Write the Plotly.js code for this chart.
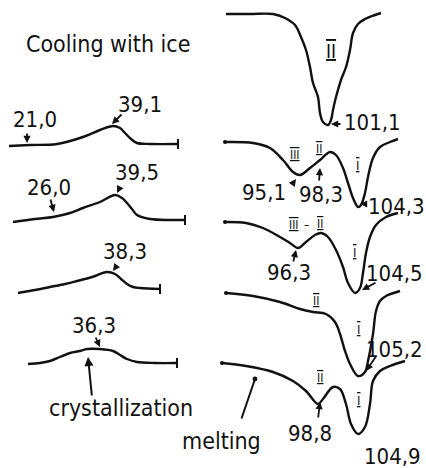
<!DOCTYPE html>
<html>
<head>
<meta charset="utf-8">
<script src="https://cdn.plot.ly/plotly-3.0.1.min.js"></script>
<style>html,body{margin:0;padding:0;background:#fff;}#chart{width:426px;height:468px;}</style>
</head>
<body>
<div id="chart"></div>
<script>
// Drawing units: the sheet is 426 x 468 units (x to the right, y downward)
// Left column: cooling (crystallization) traces
const cool1X = [9,30,57,83,100,113,120,125,131,137,150,178];
const cool1Y = [146,145,144,137,130,126,128,133,139,143,144,144];
const cool2X = [13,35,53,70,83,100,115,122,127,132,137,150,170,185];
const cool2Y = [222,219,217,213,208,202,195,198,203,209,215,219,220,220];
const cool3X = [18,35,50,65,77,92,107,115,121,127,133,140,160];
const cool3Y = [293,290,287,284,281,277,272,274,279,284,287,288,289];
const cool4X = [28,40,50,60,70,80,87,100,113,120,127,137,155,177];
const cool4Y = [364,363,361,357,353,351,349,349,351,355,359,362,363,363];
// Right column: melting traces
const melt1X = [226,250,273,285,295,301,306,310,313,318,320,323,328,331,333,336,341,346,350,353,358,365,372,381];
const melt1Y = [14,14,14,18,25,37,50,67,83,97,113,122,125,120,110,97,80,67,50,33,24,19,16,13];
const melt2X = [225,253,270,283,293,300,310,320,330,336,343,348,353,358,361,365,368,373,380,390,398];
const melt2Y = [142,143,148,160,172,175,168,160,152,155,168,183,198,207,205,193,177,158,147,142,139];
const melt3X = [225,246,263,280,290,298,306,315,321,328,336,343,348,355,360,363,366,370,376,386,398];
const melt3Y = [222,223,228,237,243,248,242,235,233,237,250,267,283,293,288,273,253,237,225,217,213];
const melt4X = [226,253,280,300,313,326,335,340,345,350,358,365,368,373,376,380,386,400];
const melt4Y = [293,296,302,309,312,314,322,334,351,364,376,372,361,334,311,301,296,291];
const melt5X = [222,246,273,293,306,318,323,333,340,346,351,358,365,370,373,380,390,405];
const melt5Y = [363,366,372,381,391,404,399,387,389,404,424,434,427,404,381,371,366,361];

// Peak temperature labels: text, text position, anchor, arrow tail, arrow tip
const peakText = ["21,0","39,1","26,0","39,5","38,3","36,3","101,1","95,1","98,3","104,3","96,3","104,5","105,2","98,8","104,9"];
const peakTX   = [35,140,49,137,125,94,342,264,321,366,289,425,425,310,392];
const peakTY   = [119,104,187,172,251,325,122,192,194,206,272,273,349,433,456];
const peakAnc  = ["center","center","center","center","center","center","left","center","center","left","center","right","right","center","center"];
const tailX    = [27,123,50,120,118,95,342,291,319,366,293,377,377,318,null];
const tailY    = [132,113,198,187,264,336,124,186,182,204,263,282,355,419,null];
const tipX     = [27,112,54,117,113,100,331,296,320,360,296,362,366,320,null];
const tipY     = [143,124,212,193,271,347,124,179,168,204,250,290,371,402,null];

// Polymorph form labels (roman numerals)
const formText = ["II","III","II","I","III","–","II","I","II","I","II","I"];
const formX    = [331,295,319,357,294,306,320,354,316,358,320,358];
const formY    = [51,155,149,165,225,225,224,252,301,329,378,400];
const formBar  = [1,1,1,1,1,0,1,1,1,1,1,1];
const formSize = [19,12,12,13,12,12,12,13,12,13,12,13];

// Captions
const capText = ["Cooling with ice","crystallization","melting"];
const capX    = [108,121,221];
const capY    = [44,408,441];
const capTail = [[null,null],[92,397],[241,420]];
const capTip  = [[null,null],[88,357],[255,379]];
const capHead = [0,2,6];

const FONT = '"DejaVu Sans Condensed","Liberation Sans Narrow","DejaVu Sans",sans-serif';
const INK = '#111';

const curves = [
  [cool1X,cool1Y,'end'],[cool2X,cool2Y,'end'],[cool3X,cool3Y,'end'],[cool4X,cool4Y,'end'],
  [melt1X,melt1Y,null],[melt2X,melt2Y,'start'],[melt3X,melt3Y,'start'],[melt4X,melt4Y,'start'],[melt5X,melt5Y,'start']
];
const traces = [];
curves.forEach(([xs,ys,m]) => {
  traces.push({x:xs,y:ys,mode:'lines',type:'scatter',hoverinfo:'skip',
    line:{color:INK,width:2.4,shape:'spline',smoothing:1}});
  if (m) {
    const i = m==='end' ? xs.length-1 : 0;
    traces.push({x:[xs[i]],y:[ys[i]],mode:'markers',type:'scatter',hoverinfo:'skip',
      marker: m==='end' ? {symbol:'line-ns',size:7,line:{color:INK,width:2}} : {symbol:'circle',size:4,color:INK}});
  }
});

const ann = [];
peakText.forEach((t,i) => {
  ann.push({x:peakTX[i],y:peakTY[i],xref:'x',yref:'y',text:t,showarrow:false,xanchor:peakAnc[i],
    font:{family:FONT,size:22,color:INK}});
  if (tailX[i]!==null) {
    ann.push({x:tipX[i],y:tipY[i],ax:tailX[i],ay:tailY[i],axref:'x',ayref:'y',xref:'x',yref:'y',
      text:'',showarrow:true,arrowhead:2,arrowsize:0.8,arrowwidth:1.8,arrowcolor:INK,standoff:0,startstandoff:0});
  }
});
formText.forEach((t,i) => {
  ann.push({x:formX[i],y:formY[i],xref:'x',yref:'y',
    text: formBar[i] ? '<span style="text-decoration:underline overline">'+t+'</span>' : t,
    showarrow:false,font:{family:FONT,size:formSize[i],color:INK}});
});
capText.forEach((t,i) => {
  ann.push({x:capX[i],y:capY[i],xref:'x',yref:'y',text:t,showarrow:false,
    font:{family:FONT,size:23,color:INK}});
  if (capTail[i][0]!==null) {
    ann.push({x:capTip[i][0],y:capTip[i][1],ax:capTail[i][0],ay:capTail[i][1],axref:'x',ayref:'y',xref:'x',yref:'y',
      text:'',showarrow:true,arrowhead:capHead[i],arrowsize:capHead[i]===6?0.6:0.9,arrowwidth:2,arrowcolor:INK,standoff:0});
  }
});

const layout = {
  width:426,height:468,margin:{l:0,r:0,t:0,b:0},
  paper_bgcolor:'#fff',plot_bgcolor:'#fff',showlegend:false,
  xaxis:{range:[0,426],visible:false,fixedrange:true},
  yaxis:{range:[468,0],visible:false,fixedrange:true},
  annotations:ann
};
Plotly.newPlot('chart',traces,layout,{staticPlot:true,displayModeBar:false});
</script>
</body>
</html>
